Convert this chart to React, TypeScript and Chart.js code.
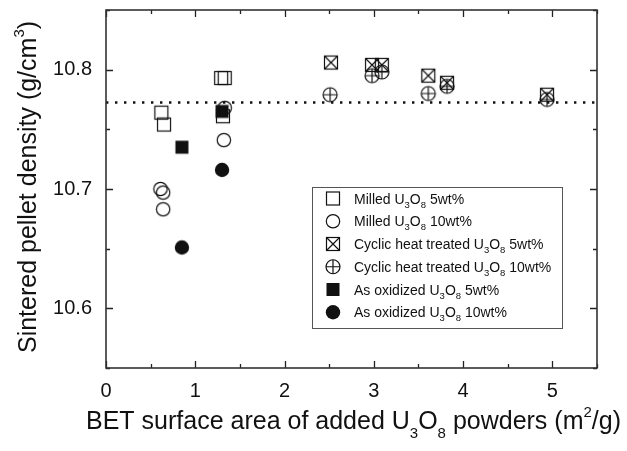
import React, { useEffect, useRef } from 'react';
import { Chart, registerables } from 'chart.js';

Chart.register(...registerables);

// ---- data ----
const milled5X = [0.62, 0.65, 1.29, 1.33, 1.31];
const milled5Y = [10.764, 10.754, 10.793, 10.793, 10.761];
const milled10X = [0.61, 0.64, 0.64, 1.32, 1.33];
const milled10Y = [10.7, 10.697, 10.683, 10.741, 10.768];
const cyclic5X = [2.52, 2.98, 3.09, 3.61, 3.82, 4.94];
const cyclic5Y = [10.806, 10.804, 10.804, 10.795, 10.789, 10.779];
const cyclic10X = [2.51, 2.98, 3.09, 3.61, 3.82, 4.94];
const cyclic10Y = [10.779, 10.795, 10.798, 10.78, 10.786, 10.775];
const oxid5X = [0.85, 1.3];
const oxid5Y = [10.735, 10.765];
const oxid10X = [0.85, 1.3];
const oxid10Y = [10.651, 10.716];
const refDensity = 10.7725;
const refLineX = [0, 5.5];
const xTickValues = [0, 1, 2, 3, 4, 5];
const yTickValues = [10.6, 10.7, 10.8];
const xRange = [0, 5.5];
const yRange = [10.55, 10.85];

type Seg = { t: string; k?: 'sub' | 'sup' };
const seriesNames: Seg[][] = [
  [{ t: 'Milled U' }, { t: '3', k: 'sub' }, { t: 'O' }, { t: '8', k: 'sub' }, { t: ' 5wt%' }],
  [{ t: 'Milled U' }, { t: '3', k: 'sub' }, { t: 'O' }, { t: '8', k: 'sub' }, { t: ' 10wt%' }],
  [{ t: 'Cyclic heat treated U' }, { t: '3', k: 'sub' }, { t: 'O' }, { t: '8', k: 'sub' }, { t: ' 5wt%' }],
  [{ t: 'Cyclic heat treated U' }, { t: '3', k: 'sub' }, { t: 'O' }, { t: '8', k: 'sub' }, { t: ' 10wt%' }],
  [{ t: 'As oxidized U' }, { t: '3', k: 'sub' }, { t: 'O' }, { t: '8', k: 'sub' }, { t: ' 5wt%' }],
  [{ t: 'As oxidized U' }, { t: '3', k: 'sub' }, { t: 'O' }, { t: '8', k: 'sub' }, { t: ' 10wt%' }],
];
const xTitle: Seg[] = [
  { t: 'BET surface area of added U' }, { t: '3', k: 'sub' }, { t: 'O' }, { t: '8', k: 'sub' },
  { t: ' powders (m' }, { t: '2', k: 'sup' }, { t: '/g)' },
];
const yTitle: Seg[] = [{ t: 'Sintered pellet density (g/cm' }, { t: '3', k: 'sup' }, { t: ')' }];

type Kind = 'openSquare' | 'openCircle' | 'crossSquare' | 'crossCircle' | 'filledSquare' | 'filledCircle';
const seriesKinds: Kind[] = ['openSquare', 'openCircle', 'crossSquare', 'crossCircle', 'filledSquare', 'filledCircle'];

const FF = '"Liberation Sans", Arial, Helvetica, sans-serif';
const INK = '#111';

function drawMarker(ctx: CanvasRenderingContext2D, kind: Kind, x: number, y: number) {
  ctx.save();
  ctx.strokeStyle = INK;
  ctx.fillStyle = INK;
  ctx.lineWidth = 1.2;
  const s = 6.5;
  if (kind === 'openSquare') {
    ctx.strokeRect(x - s, y - s, 2 * s, 2 * s);
  } else if (kind === 'openCircle') {
    ctx.beginPath(); ctx.arc(x, y, 6.7, 0, Math.PI * 2); ctx.stroke();
  } else if (kind === 'crossSquare') {
    ctx.strokeRect(x - s, y - s, 2 * s, 2 * s);
    ctx.beginPath();
    ctx.moveTo(x - s, y - s); ctx.lineTo(x + s, y + s);
    ctx.moveTo(x + s, y - s); ctx.lineTo(x - s, y + s);
    ctx.stroke();
  } else if (kind === 'crossCircle') {
    const r = 7;
    ctx.beginPath(); ctx.arc(x, y, r, 0, Math.PI * 2); ctx.stroke();
    ctx.beginPath();
    ctx.moveTo(x - r, y); ctx.lineTo(x + r, y);
    ctx.moveTo(x, y - r); ctx.lineTo(x, y + r);
    ctx.stroke();
  } else if (kind === 'filledSquare') {
    ctx.fillRect(x - s, y - s, 2 * s, 2 * s);
  } else {
    ctx.beginPath(); ctx.arc(x, y, 7.2, 0, Math.PI * 2); ctx.fill();
  }
  ctx.restore();
}

function markerCanvas(kind: Kind): HTMLCanvasElement {
  const c = document.createElement('canvas');
  c.width = 18; c.height = 18;
  const ctx = c.getContext('2d')!;
  drawMarker(ctx, kind, 9, 9);
  return c;
}

function richWidth(ctx: CanvasRenderingContext2D, segs: Seg[], size: number, small: number) {
  let w = 0;
  for (const s of segs) {
    ctx.font = `${s.k ? small : size}px ${FF}`;
    w += ctx.measureText(s.t).width;
  }
  return w;
}

function drawRich(ctx: CanvasRenderingContext2D, segs: Seg[], x: number, y: number,
  size: number, small: number, subOff: number, supOff: number) {
  let cx = x;
  ctx.textBaseline = 'alphabetic';
  ctx.textAlign = 'left';
  ctx.fillStyle = INK;
  for (const s of segs) {
    ctx.font = `${s.k ? small : size}px ${FF}`;
    const dy = s.k === 'sub' ? subOff : s.k === 'sup' ? -supOff : 0;
    ctx.fillText(s.t, cx, y + dy);
    cx += ctx.measureText(s.t).width;
  }
}

const decorPlugin = {
  id: 'decor',
  afterDatasetsDraw(chart: any) {
    const { ctx, chartArea: a, scales } = chart;
    const xs = scales.x, ys = scales.y;
    ctx.save();
    // inward ticks on all four sides
    ctx.strokeStyle = '#222';
    ctx.lineWidth = 1.3;
    ctx.beginPath();
    for (let v = xRange[0]; v <= xRange[1] + 1e-9; v += 0.5) {
      const px = Math.round(xs.getPixelForValue(v)) + 0.5;
      const major = Math.abs(v - Math.round(v)) < 1e-6;
      const L = major ? 7 : 4;
      ctx.moveTo(px, a.bottom); ctx.lineTo(px, a.bottom - L);
      ctx.moveTo(px, a.top); ctx.lineTo(px, a.top + L);
    }
    for (let v = yRange[0]; v <= yRange[1] + 1e-9; v += 0.05) {
      const py = Math.round(ys.getPixelForValue(v)) + 0.5;
      const major = Math.abs(v * 10 - Math.round(v * 10)) < 1e-6;
      const L = major ? 7 : 4;
      ctx.moveTo(a.left, py); ctx.lineTo(a.left + L, py);
      ctx.moveTo(a.right, py); ctx.lineTo(a.right - L, py);
    }
    ctx.stroke();
    // frame
    ctx.strokeStyle = '#333';
    ctx.lineWidth = 1.6;
    ctx.strokeRect(a.left, a.top, a.right - a.left, a.bottom - a.top);

    // legend
    const lx = 312, ly = 187, lw = 250, lh = 141;
    ctx.fillStyle = '#fff';
    ctx.fillRect(lx, ly, lw, lh);
    ctx.strokeStyle = '#555';
    ctx.lineWidth = 1;
    ctx.strokeRect(lx + 0.5, ly + 0.5, lw, lh);
    for (let i = 0; i < seriesNames.length; i++) {
      const yy = 198.5 + i * 22.75;
      drawMarker(ctx, seriesKinds[i], 333, yy);
      drawRich(ctx, seriesNames[i], 354, yy + 5, 14, 9.5, 4, 6);
    }

    // axis titles
    const xw = richWidth(ctx, xTitle, 25, 15);
    const xc = (a.left + a.right) / 2 + 2;
    drawRich(ctx, xTitle, xc - xw / 2, 429, 25, 15, 9, 12);

    const yw = richWidth(ctx, yTitle, 25, 15);
    const yc = (a.top + a.bottom) / 2 - 2;
    ctx.translate(36, yc);
    ctx.rotate(-Math.PI / 2);
    drawRich(ctx, yTitle, -yw / 2, 0, 25, 15, 9, 12);
    ctx.restore();
  },
};

export default function App() {
  const ref = useRef<HTMLCanvasElement>(null);
  useEffect(() => {
    document.body.style.margin = '0';
    const canvas = ref.current!;
    const toPts = (xs: number[], ys: number[]) => xs.map((x, i) => ({ x, y: ys[i] }));
    const sets = [
      [milled5X, milled5Y], [milled10X, milled10Y], [cyclic5X, cyclic5Y],
      [cyclic10X, cyclic10Y], [oxid5X, oxid5Y], [oxid10X, oxid10Y],
    ];
    const datasets: any[] = [
      {
        type: 'line',
        data: refLineX.map((x) => ({ x, y: refDensity })),
        borderColor: '#111',
        borderWidth: 2.4,
        borderDash: [2.4, 6.6],
        pointRadius: 0,
        fill: false,
        order: 10,
      },
      ...sets.map(([xs, ys], i) => ({
        type: 'scatter',
        data: toPts(xs, ys),
        pointStyle: markerCanvas(seriesKinds[i]),
        pointRadius: 9,
        order: i,
      })),
    ];
    const chart = new Chart(canvas, {
      type: 'scatter',
      data: { datasets },
      options: {
        animation: false,
        responsive: false,
        maintainAspectRatio: false,
        layout: { padding: { left: 0, top: 8, right: 30, bottom: 0 } },
        plugins: { legend: { display: false }, tooltip: { enabled: false } },
        scales: {
          x: {
            type: 'linear',
            min: xRange[0],
            max: xRange[1],
            afterBuildTicks: (s: any) => { s.ticks = xTickValues.map((v) => ({ value: v })); },
            afterFit: (s: any) => { s.height = 83; s.paddingLeft = 0; s.paddingRight = 0; },
            grid: { display: false, drawTicks: false },
            border: { display: false },
            ticks: {
              color: INK,
              font: { family: FF, size: 20 },
              padding: 11,
              maxRotation: 0,
              callback: (v: any) => String(v),
            },
          },
          y: {
            type: 'linear',
            min: yRange[0],
            max: yRange[1],
            afterBuildTicks: (s: any) => { s.ticks = yTickValues.map((v) => ({ value: v })); },
            afterFit: (s: any) => { s.width = 106; s.paddingTop = 0; s.paddingBottom = 0; },
            grid: { display: false, drawTicks: false },
            border: { display: false },
            ticks: {
              color: INK,
              font: { family: FF, size: 20 },
              padding: 14,
              callback: (v: any) => Number(v).toFixed(1),
            },
          },
        },
      },
      plugins: [decorPlugin],
    } as any);
    return () => chart.destroy();
  }, []);
  return (
    <div style={{ position: 'absolute', left: 0, top: 0, width: 627, height: 451, background: '#fff' }}>
      <canvas ref={ref} width={627} height={451} style={{ width: 627, height: 451, display: 'block' }} />
    </div>
  );
}
